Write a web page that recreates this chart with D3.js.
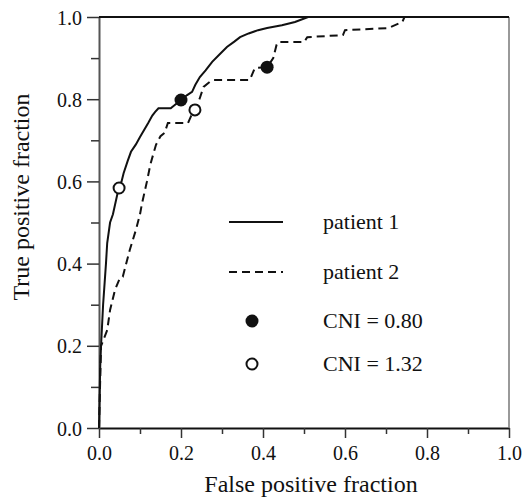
<!DOCTYPE html>
<html>
<head>
<meta charset="utf-8">
<script src="https://cdn.jsdelivr.net/npm/d3@7"></script>
<style>
  body { margin: 0; background: #fff; }
  svg text { font-family: "Liberation Serif", "DejaVu Serif", serif; fill: #111; }
</style>
</head>
<body>
<div id="chart"></div>
<script>
// ROC curve vertices [false positive fraction, true positive fraction]
const patient1 = [[0,0],[0.003,0.15],[0.005,0.2],[0.01,0.3],[0.017,0.4],[0.02,0.45],[0.027,0.5],[0.034,0.52],
  [0.045,0.57],[0.055,0.6],[0.06,0.62],[0.07,0.65],[0.078,0.672],[0.09,0.69],[0.1,0.708],[0.11,0.725],
  [0.12,0.742],[0.13,0.76],[0.137,0.769],[0.145,0.778],[0.175,0.778],[0.19,0.79],[0.2,0.798],[0.215,0.81],
  [0.227,0.818],[0.235,0.835],[0.246,0.854],[0.26,0.87],[0.276,0.891],[0.295,0.91],[0.312,0.927],[0.33,0.94],
  [0.344,0.951],[0.365,0.96],[0.388,0.968],[0.41,0.973],[0.446,0.98],[0.478,0.988],[0.51,1.0],[1,1]];
const patient2 = [[0,0],[0.005,0.2],[0.008,0.207],[0.02,0.238],[0.027,0.287],[0.039,0.336],[0.051,0.365],
  [0.058,0.368],[0.075,0.433],[0.09,0.482],[0.1,0.52],[0.105,0.547],[0.117,0.6],[0.125,0.64],[0.132,0.665],
  [0.139,0.689],[0.15,0.71],[0.16,0.718],[0.168,0.742],[0.217,0.742],[0.225,0.76],[0.234,0.774],[0.245,0.8],
  [0.255,0.83],[0.27,0.842],[0.28,0.847],[0.368,0.847],[0.38,0.876],[0.41,0.878],[0.425,0.9],[0.433,0.932],
  [0.437,0.939],[0.5,0.939],[0.508,0.951],[0.595,0.956],[0.6,0.968],[0.705,0.973],[0.74,0.988],[0.745,1.0]];
// operating points
const cni080 = [[0.2,0.798],[0.41,0.878]];
const cni132 = [[0.049,0.584],[0.234,0.774]];
const majorTicks = [0, 0.2, 0.4, 0.6, 0.8, 1.0];
const minorTicks = [0.1, 0.3, 0.5, 0.7, 0.9];
const legendItems = ["patient 1", "patient 2", "CNI = 0.80", "CNI = 1.32"];

const W = 524, H = 498;
const mLeft = 99, mRight = 509, mTop = 17, mBottom = 428;

const svg = d3.select('#chart').append('svg').attr('width', W).attr('height', H);
const x = d3.scaleLinear().domain([0, 1]).range([mLeft, mRight]);
const y = d3.scaleLinear().domain([0, 1]).range([mBottom, mTop]);

// axes
const fmt = d3.format('.1f');
const xAxis = svg.append('g').attr('transform', `translate(0,${mBottom})`)
  .call(d3.axisBottom(x).tickValues(majorTicks).tickFormat(fmt).tickSize(10).tickSizeOuter(0));
svg.append('g').attr('transform', `translate(0,${mBottom})`)
  .call(d3.axisBottom(x).tickValues(minorTicks).tickFormat('').tickSize(6).tickSizeOuter(0))
  .select('.domain').remove();
const yAxis = svg.append('g').attr('transform', `translate(${mLeft},0)`)
  .call(d3.axisLeft(y).tickValues(majorTicks).tickFormat(fmt).tickSize(12).tickSizeOuter(0));
svg.append('g').attr('transform', `translate(${mLeft},0)`)
  .call(d3.axisLeft(y).tickValues(minorTicks).tickFormat('').tickSize(8).tickSizeOuter(0))
  .select('.domain').remove();

svg.selectAll('.tick line').attr('stroke', '#333').attr('stroke-width', 1.5);
xAxis.select('.domain').attr('stroke', '#111').attr('stroke-width', 2);
yAxis.select('.domain').attr('stroke', '#555').attr('stroke-width', 2);
xAxis.selectAll('text').attr('font-size', 20).attr('dy', '0.95em');
yAxis.selectAll('text').attr('font-size', 20).attr('x', -17).attr('dy', '0.35em');

// top and right frame
svg.append('line').attr('x1', mLeft).attr('x2', mRight).attr('y1', mTop).attr('y2', mTop)
  .attr('stroke', '#111').attr('stroke-width', 2);
svg.append('line').attr('x1', mRight).attr('x2', mRight).attr('y1', mTop).attr('y2', mBottom)
  .attr('stroke', '#777').attr('stroke-width', 1.5);

// curves
const line = d3.line().x(d => x(d[0])).y(d => y(d[1]));
svg.append('path').datum(patient2).attr('d', line).attr('fill', 'none')
  .attr('stroke', '#111').attr('stroke-width', 2).attr('stroke-dasharray', '8,5');
svg.append('path').datum(patient1).attr('d', line).attr('fill', 'none')
  .attr('stroke', '#111').attr('stroke-width', 2);

svg.selectAll('.filled').data(cni080).enter().append('circle')
  .attr('cx', d => x(d[0])).attr('cy', d => y(d[1])).attr('r', 6.5).attr('fill', '#111');
svg.selectAll('.open').data(cni132).enter().append('circle')
  .attr('cx', d => x(d[0])).attr('cy', d => y(d[1])).attr('r', 5.5)
  .attr('fill', '#fff').attr('stroke', '#111').attr('stroke-width', 2);

// axis titles
svg.append('text').attr('x', 311).attr('y', 492).attr('text-anchor', 'middle')
  .attr('font-size', 24).text('False positive fraction');
svg.append('text').attr('transform', 'translate(29,197) rotate(-90)').attr('text-anchor', 'middle')
  .attr('font-size', 24).text('True positive fraction');

// legend
const legY = [222, 272, 321, 364];
svg.append('line').attr('x1', 229).attr('x2', 283).attr('y1', legY[0]).attr('y2', legY[0])
  .attr('stroke', '#111').attr('stroke-width', 2);
svg.append('line').attr('x1', 229).attr('x2', 283).attr('y1', legY[1]).attr('y2', legY[1])
  .attr('stroke', '#111').attr('stroke-width', 2).attr('stroke-dasharray', '8,5');
svg.append('circle').attr('cx', 252).attr('cy', legY[2]).attr('r', 6.5).attr('fill', '#111');
svg.append('circle').attr('cx', 252).attr('cy', legY[3]).attr('r', 5.5)
  .attr('fill', '#fff').attr('stroke', '#111').attr('stroke-width', 2);
svg.selectAll('.leg').data(legendItems).enter().append('text')
  .attr('x', 323).attr('y', (d, i) => legY[i]).attr('dy', '0.3em')
  .attr('font-size', 22).text(d => d);
</script>
</body>
</html>
